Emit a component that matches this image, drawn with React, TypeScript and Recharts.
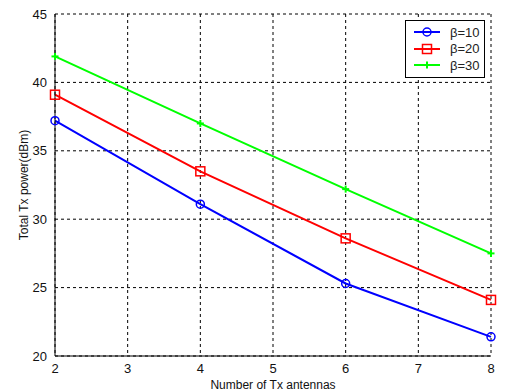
import { CartesianGrid, Line, LineChart, XAxis, YAxis } from "recharts";

const antennas = [2, 4, 6, 8];
const beta10 = [37.2, 31.1, 25.3, 21.4];
const beta20 = [39.1, 33.5, 28.6, 24.1];
const beta30 = [41.9, 37.0, 32.2, 27.5];
const xTicks = [2, 3, 4, 5, 6, 7, 8];
const yTicks = [20, 25, 30, 35, 40, 45];

const data = antennas.map((n, i) => ({
  n,
  b10: beta10[i],
  b20: beta20[i],
  b30: beta30[i],
}));

const font = "'Liberation Sans', Arial, sans-serif";

const series = [
  { key: "b10", name: "β=10", color: "#0000ff", marker: "circle" },
  { key: "b20", name: "β=20", color: "#ff0000", marker: "square" },
  { key: "b30", name: "β=30", color: "#00ff00", marker: "plus" },
];

function Marker({ cx, cy, color, kind }: { cx: number; cy: number; color: string; kind: string }) {
  if (cx == null || cy == null) return null;
  if (kind === "circle")
    return <circle cx={cx} cy={cy} r={4} fill="none" stroke={color} strokeWidth={1.5} />;
  if (kind === "square")
    return <rect x={cx - 4.5} y={cy - 4.5} width={9} height={9} fill="none" stroke={color} strokeWidth={1.5} />;
  return (
    <g stroke={color} strokeWidth={2}>
      <line x1={cx - 3.5} y1={cy} x2={cx + 3.5} y2={cy} />
      <line x1={cx} y1={cy - 3.5} x2={cx} y2={cy + 3.5} />
    </g>
  );
}

function LegendBox() {
  return (
    <div
      style={{
        position: "absolute",
        left: 405,
        top: 20,
        border: "1px solid #000",
        background: "#fff",
        width: 78,
        padding: "3px 0",
        fontFamily: font,
        fontSize: 13,
      }}
    >
      {series.map((s) => (
        <div key={s.key} style={{ display: "flex", alignItems: "center", height: 16.5 }}>
          <svg width={32} height={12} style={{ marginLeft: 6 }}>
            <line x1={2} y1={6} x2={28} y2={6} stroke={s.color} strokeWidth={2} />
            <Marker cx={15} cy={6} color={s.color} kind={s.marker} />
          </svg>
          <span style={{ marginLeft: 6, color: "#222" }}>{s.name}</span>
        </div>
      ))}
    </div>
  );
}

export default function App() {
  return (
    <div style={{ position: "absolute", left: 0, top: 0, width: 509, height: 392, background: "#fff" }}>
      <LineChart
        width={509}
        height={392}
        data={data}
        margin={{ top: 14, right: 18, bottom: 16, left: 15 }}
      >
        <CartesianGrid stroke="#000" strokeDasharray="3 3" />
        <XAxis
          dataKey="n"
          type="number"
          domain={[2, 8]}
          ticks={xTicks}
          height={20}
          tickLine={false}
          axisLine={{ stroke: "#000" }}
          tick={{ fontSize: 13, fill: "#111", fontFamily: font }}
          tickMargin={2}
          label={{
            value: "Number of Tx antennas",
            position: "bottom",
            offset: 4,
            style: { fontSize: 12, fill: "#111", fontFamily: font },
          }}
        />
        <XAxis
          xAxisId="top"
          dataKey="n"
          type="number"
          domain={[2, 8]}
          orientation="top"
          height={0}
          tick={false}
          tickLine={false}
          axisLine={{ stroke: "#777" }}
        />
        <YAxis
          type="number"
          domain={[20, 45]}
          ticks={yTicks}
          width={40}
          tickLine={false}
          axisLine={{ stroke: "#000" }}
          tick={{ fontSize: 13, fill: "#111", fontFamily: font }}
          tickMargin={2}
          label={{
            value: "Total Tx power(dBm)",
            angle: -90,
            position: "insideLeft",
            offset: 9,
            style: { fontSize: 12, fill: "#111", fontFamily: font, textAnchor: "middle" },
          }}
        />
        <YAxis
          yAxisId="right"
          type="number"
          domain={[20, 45]}
          orientation="right"
          width={0}
          tick={false}
          tickLine={false}
          axisLine={{ stroke: "#777" }}
        />
        {series.map((s) => (
          <Line
            key={s.key}
            dataKey={s.key}
            name={s.name}
            type="linear"
            stroke={s.color}
            strokeWidth={2}
            isAnimationActive={false}
            dot={(p: any) => (
              <Marker key={`${s.key}-${p.index}`} cx={p.cx} cy={p.cy} color={s.color} kind={s.marker} />
            )}
            activeDot={false}
          />
        ))}
      </LineChart>
      <LegendBox />
    </div>
  );
}
